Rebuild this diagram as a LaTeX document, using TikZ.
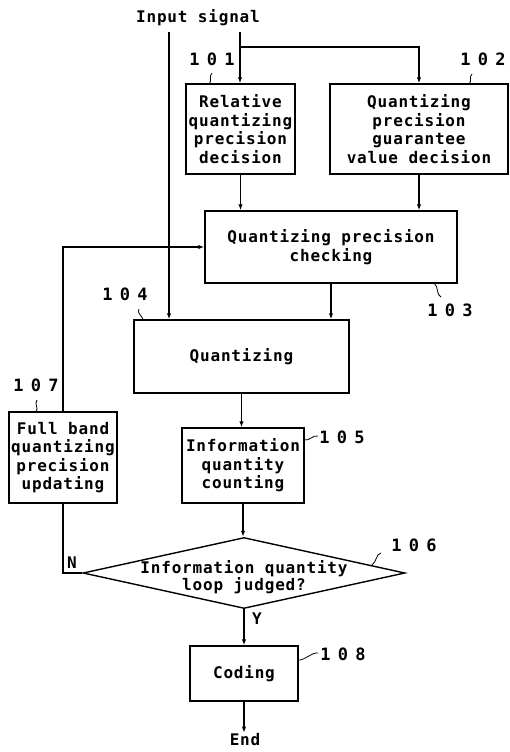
\documentclass[tikz,border=0pt]{standalone}
\usepackage{fontspec}
\usetikzlibrary{calc,arrows.meta,shapes.geometric}
\newfontfamily\blockfont[LetterSpace=5]{DejaVu Sans Mono}
\newfontfamily\numfont[LetterSpace=43]{DejaVu Sans Mono}
\tikzset{
  blk/.style={draw,line width=1.4pt,inner sep=1pt,align=center,font=\fontsize{16}{18.5}\blockfont\bfseries},
  dec/.style={draw,diamond,line width=1.4pt,inner sep=0pt,minimum width=322pt,minimum height=71pt},
  txt/.style={inner sep=1pt,align=center,font=\fontsize{16}{15.5}\blockfont\bfseries},
  num/.style={inner sep=0pt,font=\fontsize{17}{17}\numfont\bfseries},
  wire/.style={line width=1.4pt},
  arr/.style={line width=1.4pt,-{Latex[length=6pt,width=4.5pt]}},
  lead/.style={line width=0.8pt}
}
\begin{document}
\begin{tikzpicture}[x=1pt,y=-1pt]
            \useasboundingbox (0,0) rectangle (510,752);
            \node[txt] (inp) at (198,18) {Input signal};
            \coordinate (in1) at (169,32);
            \coordinate (in2) at (240,32);
            \coordinate (br) at (240,47);
            \node[blk,minimum width=109pt,minimum height=90pt] (b101) at (240.5,129) {Relative\\quantizing\\precision\\decision};
            \node[blk,minimum width=178pt,minimum height=90pt] (b102) at (419,129) {Quantizing\\precision\\guarantee\\value decision};
            \node[blk,minimum width=252pt,minimum height=72pt] (b103) at (331,247) {Quantizing precision\\checking};
            \node[blk,minimum width=215pt,minimum height=73pt] (b104) at (241.5,356.5) {Quantizing};
            \node[blk,minimum width=122pt,minimum height=75pt] (b105) at (243,465.5) {Information\\quantity\\counting};
            \node[blk,minimum width=108pt,minimum height=91pt] (b107) at (63,457.5) {Full band\\quantizing\\precision\\updating};
            \node[dec,label={[txt,yshift=-4pt]center:{Information quantity\\loop judged?}}] (d106) at (244,573) {};
            \node[blk,minimum width=108pt,minimum height=55pt] (b108) at (244,673.5) {Coding};
            \node[txt] (endn) at (245,740) {End};
            \node[txt] (nlab) at (72,563) {N};
            \node[txt] (ylab) at (257,619) {Y};
            \node[num] (l101) at (212,59) {101};
            \node[num] (l102) at (483,59) {102};
            \node[num] (l103) at (450,310) {103};
            \node[num] (l104) at (125,294) {104};
            \node[num] (l105) at (342,437) {105};
            \node[num] (l106) at (414,545) {106};
            \node[num] (l107) at (36,385) {107};
            \node[num] (l108) at (343,654) {108};
            \draw[arr] (in2) -- (in2 |- b101.north);
            \draw[arr] (br) -| (b102.north);
            \draw[arr] (in1) -- (in1 |- b104.north);
            \draw[arr] (b101.south) -- (b101.south |- b103.north);
            \draw[arr] (b102.south) -- (b102.south |- b103.north);
            \draw[arr] (b103.south) -- (b103.south |- b104.north);
            \draw[arr] (b104.south) -- (b104.south |- b105.north);
            \draw[arr] (b105.south) -- (b105.south |- d106.north);
            \draw[arr] (d106.south) -- (d106.south |- b108.north);
            \draw[arr] (b108.south) -- (b108.south |- endn.north);
            \draw[wire] (d106.west) -| (b107.south);
            \draw[arr] (b107.north) |- (b103.west);
            \draw[lead] (212,73) .. controls (208,77) and (213,80) .. (209,84);
            \draw[lead] (472,74) .. controls (468,78) and (473,80) .. (469,84);
            \draw[lead] (441,297) .. controls (436,295) and (439,287) .. (434,283);
            \draw[lead] (139,309) .. controls (136,313) and (143,316) .. (143,320);
            \draw[lead] (318,436) .. controls (312,435) and (310,441) .. (304,440);
            \draw[lead] (381,553) .. controls (376,554) and (377,561) .. (372,565);
            \draw[lead] (37,400) .. controls (34,404) and (39,408) .. (36,412);
            \draw[lead] (318,653) .. controls (312,652) and (304,661) .. (298,660);
\end{tikzpicture}
\end{document}
